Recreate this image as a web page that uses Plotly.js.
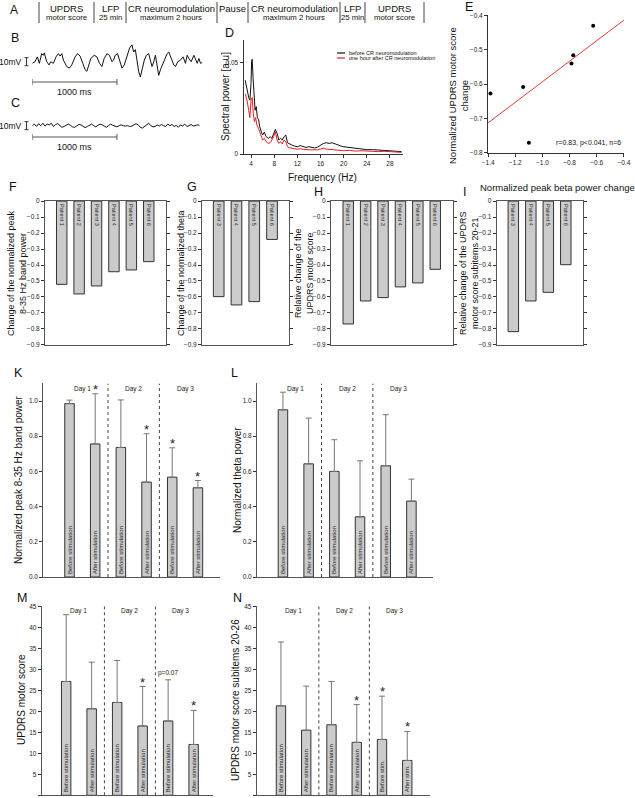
<!DOCTYPE html>
<html><head><meta charset="utf-8">
<script src="https://cdn.plot.ly/plotly-3.0.1.min.js"></script>
<style>html,body{margin:0;padding:0;background:#fff}#chart{width:635px;height:798px}</style>
</head><body><div id="chart"></div>
<script>
// ---------------- DATA ----------------
const headerTop = ["UPDRS","LFP","CR neuromodulation","Pause","CR neuromodulation","LFP","UPDRS"];
const headerBottom = ["motor score","25 min","maximum 2 hours","","maximum 2 hours","25 min","motor score"];

const bTime = [0,32,59,83,111,130,142,170,198,217,249,280,308,328,348,367,407,438,466,506,533,565,596,624,644,664,691,731,762,794,822,849,881,912,940,960,980,1007,1031,1059,1086,1118,1149,1177,1197,1217,1236,1256,1276,1296,1323,1347,1375,1394,1414,1434,1454,1473,1493,1513,1552,1592,1612,1639,1671,1691,1718,1750,1781,1809,1829,1849,1876,1908,1928,1948,1967,1987,2007];
const bVolt = [-2,0,6,-2,10,8,11,0,-4,0,-2,6,10,7,10,2,-6,-8,-4,6,10,7,-2,-10,-12,-4,4,8,6,-2,-6,4,10,8,0,2,8,10,0,-8,-4,6,17,21,12,15,-2,-12,-19,-10,2,8,10,2,-6,0,8,-4,-17,-10,0,10,12,4,-4,-6,0,2,6,-2,8,4,0,8,2,-2,4,-2,-1];
const cVolt = [0,2,-1,2.5,0,3,-0.5,2,1,3,-1,1.5,2.5,0,-2,-1,1,2,0.5,-1.5,-2,0,1.5,1,-1,-2.5,-1,1,2,0,-1.5,0.5,2,1,-1,-2,0,2,0.5,-1,-1.5,0,1,0,-0.5,0,-1,-0.5,0.5,2.5,1,-2,-3,-1,2,3,0,-1.5,-1,1,-0.5,1.5,0,-1,2,0,1.5,-1,0.5,-2,1,-0.5,2,-1,0,1.5,-0.5,0.5,1,0.5];
const cStartMs = 0, cStepMs = 25;

const dSeriesNames = ["before CR neuromodulation","one hour after CR neuromodulation"];
const dFreqBefore = [3.0,3.3,3.6,3.8,4.0,4.1,4.2,4.35,4.5,4.7,4.9,5.1,5.3,5.5,5.8,6.0,6.3,6.6,7.0,7.3,7.6,7.9,8.2,8.5,8.8,9.1,9.4,9.7,10.0,10.3,10.6,11,11.5,12,12.5,13,13.5,14,14.5,15,15.5,16,16.5,17,17.5,18,18.5,19,19.5,20,21,22,23,24,25,26,27,28,29,30];
const dPowBefore = [0.0405,0.035,0.031,0.0296,0.0387,0.051,0.052,0.042,0.030,0.024,0.026,0.020,0.019,0.015,0.012,0.0104,0.012,0.0095,0.0086,0.0095,0.0086,0.0113,0.0135,0.0113,0.0077,0.0086,0.0077,0.0095,0.0104,0.0062,0.0055,0.005,0.0044,0.004,0.0046,0.004,0.0036,0.004,0.0035,0.0033,0.0038,0.0047,0.0058,0.0062,0.0058,0.0062,0.0055,0.0047,0.0044,0.004,0.0036,0.0031,0.0027,0.0024,0.0024,0.0022,0.002,0.0018,0.0015,0.0013];
const dFreqAfter = [3.0,3.3,3.6,3.8,4.0,4.2,4.4,4.6,4.8,5.0,5.3,5.6,6.0,6.3,6.6,7.0,7.3,7.6,7.9,8.2,8.5,8.8,9.1,9.4,9.7,10.0,10.3,10.6,11,11.5,12,12.5,13,13.5,14,14.5,15,15.5,16,16.5,17,17.5,18,18.5,19,20,21,22,23,24,25,26,27,28,29,30];
const dPowAfter = [0.033,0.0296,0.024,0.020,0.0296,0.031,0.022,0.0177,0.020,0.016,0.014,0.0113,0.0077,0.0086,0.0068,0.0058,0.0062,0.0077,0.0095,0.0122,0.0077,0.0058,0.0068,0.0055,0.0077,0.0068,0.004,0.0035,0.0031,0.0029,0.0026,0.0029,0.0026,0.0024,0.0026,0.0022,0.0024,0.0022,0.0027,0.0031,0.0027,0.0026,0.0022,0.0024,0.002,0.0018,0.002,0.0016,0.0018,0.0015,0.0016,0.0013,0.0015,0.0011,0.0011,0.0009];
const dXTicks = [4,8,12,16,20,24,28];
const dYTicks = [0,0.05];

const eBetaChange = [-1.383,-1.142,-1.10,-0.786,-0.773,-0.626];
const eUpdrsChange = [-0.628,-0.609,-0.771,-0.540,-0.516,-0.430];
const eFitX = [-1.4,-0.4];
const eFitY = [-0.713,-0.414];
const eStats = "r=0.83, p<0.041, n=6";
const eXTicks = [-1.4,-1.2,-1.0,-0.8,-0.6,-0.4];
const eYTicks = [-0.8,-0.7,-0.6,-0.5,-0.4];

const fPatients = ["Patient 1","Patient 2","Patient 3","Patient 4","Patient 5","Patient 6"];
const fValues = [-0.521,-0.581,-0.531,-0.442,-0.431,-0.379];
const gPatients = ["Patient 3","Patient 4","Patient 5","Patient 6"];
const gValues = [-0.598,-0.650,-0.629,-0.240];
const hPatients = ["Patient 1","Patient 2","Patient 3","Patient 4","Patient 5","Patient 6"];
const hValues = [-0.769,-0.625,-0.604,-0.537,-0.512,-0.427];
const iPatients = ["Patient 3","Patient 4","Patient 5","Patient 6"];
const iValues = [-0.817,-0.625,-0.571,-0.398];
const patientTicks = [0,-0.1,-0.2,-0.3,-0.4,-0.5,-0.6,-0.7,-0.8,-0.9];

const conditions = ["Day 1 before","Day 1 after","Day 2 before","Day 2 after","Day 3 before","Day 3 after"];
const dayNames = ["Day 1","Day 2","Day 3"];
const barLabels = ["Before stimulation","After stimulation","Before stimulation","After stimulation","Before stimulation","After stimulation"];
const barLabelsShort = ["Before stimulation","After stimulation","Before stimulation","After stimulation","Before stim.","After stim."];
const noLower = [0,0,0,0,0,0];
const kMean = [0.985,0.756,0.736,0.539,0.567,0.507];
const kErr  = [0.020,0.285,0.270,0.275,0.167,0.041];
const kSig  = ["","*","","*","*","*"];
const lMean = [0.950,0.643,0.600,0.342,0.632,0.431];
const lErr  = [0.100,0.260,0.180,0.318,0.290,0.125];
const lSig  = ["","","","","",""];
const mMean = [27.1,20.6,22.1,16.5,17.7,12.1];
const mErr  = [15.9,11.1,10.0,9.4,9.8,8.1];
const mSig  = ["","","","*","p=0.07","*"];
const nMean = [21.3,15.5,16.8,12.6,13.3,8.3];
const nErr  = [15.2,10.5,10.3,9.0,10.3,6.9];
const nSig  = ["","","","*","*","*"];

// ---------------- LAYOUT HELPERS ----------------
const FONT = 'Liberation Sans, Arial, Helvetica, sans-serif';
const W = 635, H = 798;
const px = v => v / W;
const py = v => 1 - v / H;
const xd = (a, b) => [a / W, b / W];
const yd = (top, bot) => [1 - bot / H, 1 - top / H];

const traces = [];
const layout = {
  width: W, height: H, margin: {l:0, r:0, t:0, b:0},
  paper_bgcolor: '#fff', plot_bgcolor: 'rgba(0,0,0,0)',
  showlegend: false, font: {family: FONT, color: '#111'},
  shapes: [], annotations: []
};
const A = layout.annotations, S = layout.shapes;
function note(text, x, y, size, extra) {
  A.push(Object.assign({text, x: px(x), y: py(y), xref:'paper', yref:'paper', showarrow:false,
    font:{family:FONT, size:size, color:'#111'}, xanchor:'center', yanchor:'middle'}, extra || {}));
}
function ax(domain, range, extra) {
  return Object.assign({domain, range, showgrid:false, zeroline:false, showline:true, linecolor:'#333',
    linewidth:1, ticks:'outside', ticklen:3, tickwidth:1, tickcolor:'#333',
    tickfont:{family:FONT, size:6.5, color:'#222'}, fixedrange:true, automargin:false}, extra || {});
}
function line(x0,y0,x1,y1,xref,yref,style){ S.push(Object.assign({type:'line',x0,y0,x1,y1,xref,yref,line:{color:'#333',width:1}},style||{})); }

// ---------------- A: header ----------------
const cellEdges = [39,94,126,217,248,340,365,424];
cellEdges.forEach(e => line(px(e), py(2), px(e), py(23), 'paper', 'paper', {line:{color:'#444',width:1}}));
headerTop.forEach((t,i) => note(t, (cellEdges[i]+cellEdges[i+1])/2, 8, 9.5));
headerBottom.forEach((t,i) => { if (t) note(t, (cellEdges[i]+cellEdges[i+1])/2, 18, 7.8); });
note('A', 14, 10, 12);

// ---------------- B & C: LFP traces ----------------
layout.xaxis  = {domain: xd(32.3, 202.5), range:[0,2010], visible:false, anchor:'y', fixedrange:true};
layout.yaxis  = {domain: yd(40, 85), range:[-29,27], visible:false, anchor:'x', fixedrange:true};
layout.xaxis2 = {domain: xd(32.3, 202.5), range:[0,2010], visible:false, anchor:'y2', fixedrange:true};
layout.yaxis2 = {domain: yd(110, 142), range:[-20.4,19.6], visible:false, anchor:'x2', fixedrange:true};
traces.push({type:'scatter', mode:'lines', x:bTime, y:bVolt, xaxis:'x', yaxis:'y', line:{color:'#111', width:1}, hoverinfo:'skip'});
traces.push({type:'scatter', mode:'lines', x0:cStartMs, dx:cStepMs, y:cVolt, xaxis:'x2', yaxis:'y2', line:{color:'#111', width:1}, hoverinfo:'skip'});
[['y',82],['y2',137]].forEach(([yr, barY], k) => {
  line(px(26.5), -5, px(26.5), 5, 'paper', yr);
  line(px(24.5), -5, px(28.5), -5, 'paper', yr);
  line(px(24.5), 5, px(28.5), 5, 'paper', yr);
  A.push({text:'10mV', x:px(23.5), y:0, xref:'paper', yref:yr, showarrow:false, xanchor:'right', yanchor:'middle', font:{family:FONT,size:8.5,color:'#111'}});
  const xr = k === 0 ? 'x' : 'x2';
  line(0, py(barY), 1000, py(barY), xr, 'paper', {line:{color:'#555',width:1}});
  line(0, py(barY-3), 0, py(barY+3), xr, 'paper', {line:{color:'#555',width:1}});
  line(1000, py(barY-3), 1000, py(barY+3), xr, 'paper', {line:{color:'#555',width:1}});
  note('1000 ms', 74, barY + 10, 9);
});
note('B', 15, 38, 12.5);
note('C', 15, 103, 12.5);

// ---------------- D: spectra ----------------
layout.xaxis3 = ax(xd(243.5, 403.3), [2.7, 30.3], {anchor:'y3', tickvals:dXTicks});
layout.yaxis3 = ax(yd(40, 154), [0, 0.0626], {anchor:'x3', tickvals:dYTicks});
traces.push({type:'scatter', mode:'lines', name:dSeriesNames[0], x:dFreqBefore, y:dPowBefore, xaxis:'x3', yaxis:'y3', line:{color:'#111', width:1}, hoverinfo:'skip'});
traces.push({type:'scatter', mode:'lines', name:dSeriesNames[1], x:dFreqAfter, y:dPowAfter, xaxis:'x3', yaxis:'y3', line:{color:'#e02020', width:1}, hoverinfo:'skip'});
[['#111',53],['#e02020',58]].forEach(([c, yy], i) => {
  line(px(337), py(yy), px(345), py(yy), 'paper', 'paper', {line:{color:c, width:1.2}});
  note(dSeriesNames[i], 347, yy, 5.5, {xanchor:'left'});
});
note('D', 229, 33, 12.5);
note('Spectral power [a.u]', 226, 97, 10, {textangle:-90});
note('Frequency (Hz)', 322, 178, 10);

// ---------------- E: correlation ----------------
layout.xaxis4 = ax(xd(488, 624), [-1.401, -0.399], {anchor:'y4', tickvals:eXTicks, tickformat:'.1f'});
layout.yaxis4 = ax(yd(15, 153), [-0.801, -0.399], {anchor:'x4', tickvals:eYTicks, tickformat:'.1f'});
traces.push({type:'scatter', mode:'lines', x:eFitX, y:eFitY, xaxis:'x4', yaxis:'y4', line:{color:'#e03a3a', width:1}, hoverinfo:'skip'});
traces.push({type:'scatter', mode:'markers', x:eBetaChange, y:eUpdrsChange, xaxis:'x4', yaxis:'y4', marker:{color:'#000', size:4}, hoverinfo:'skip'});
note(eStats, 588, 143, 7);
note('E', 469, 7, 12.5);
note('Normalized UPDRS motor score<br>change', 458, 96, 9.5, {textangle:-90});
note('Normalized peak beta power change', 557, 187, 9.5);

// ---------------- F-I: patient bars ----------------
function patientPanel(n, cats, vals, xdom, xrange, letter, letterX, letterY, title, titleX) {
  const xa = 'xaxis' + n, ya = 'yaxis' + n;
  layout[xa] = ax(xd(xdom[0], xdom[1]), xrange, {anchor:'y'+n, type:'category', ticks:'', showticklabels:false, mirror:true, linecolor:'#555'});
  layout[ya] = ax(yd(201, 345), [-0.9005, 0.0005], {anchor:'x'+n, tickvals:patientTicks, mirror:'ticks', linecolor:'#555'});
  traces.push({type:'bar', x:cats, y:vals, xaxis:'x'+n, yaxis:'y'+n, width:0.6,
    marker:{color:'#cbcbcb', line:{color:'#333', width:1}},
    text:cats, textposition:'inside', insidetextanchor:'start', textangle:90, constraintext:'none',
    textfont:{family:FONT, size:5.5, color:'#222'}, hoverinfo:'skip'});
  note(letter, letterX, letterY, 12.5);
  note(title, titleX, 273, 9, {textangle:-90});
}
patientPanel(5, fPatients, fValues, [45,166], [-0.96, 5.99], 'F', 13, 187, 'Change of the normalized peak<br>8-35 Hz band power', 17);
patientPanel(6, gPatients, gValues, [202,289], [-0.94, 3.955], 'G', 192, 187, 'Change of the normalized theta', 181);
patientPanel(7, hPatients, hValues, [331,453], [-0.99, 6.02], 'H', 318, 192, 'Relative change of the<br>UPDRS motor score', 304);
patientPanel(8, iPatients, iValues, [496.7,583.3], [-0.95, 4.0], 'I', 464, 192, 'Relative change of the UPDRS<br>motor score subitems 20-21', 469);

// ---------------- K-N: day bars ----------------
function dayPanel(n, mean, err, sig, labels, xdom, xrange, ydom, yrange, ytick, yfmt, dayY, letter, letterXY, title, titleXY) {
  layout['xaxis'+n] = ax(xd(xdom[0], xdom[1]), xrange, {anchor:'y'+n, type:'category', ticks:'', showticklabels:false, linecolor:'#555'});
  layout['yaxis'+n] = ax(yd(ydom[0], ydom[1]), yrange, {anchor:'x'+n, dtick:ytick, tick0:0, tickformat:yfmt, linecolor:'#555'});
  traces.push({type:'bar', x:conditions, y:mean, xaxis:'x'+n, yaxis:'y'+n, width:0.37,
    marker:{color:'#cbcbcb', line:{color:'#333', width:1}},
    error_y:{type:'data', symmetric:false, array:err, arrayminus:noLower, color:'#777', thickness:1, width:3},
    text:labels, textposition:'inside', insidetextanchor:'start', textangle:-90, constraintext:'none',
    textfont:{family:FONT, size:6, color:'#222'}, hoverinfo:'skip'});
  [1.5, 3.5].forEach(xs => line(xs, 0, xs, yrange[1], 'x'+n, 'y'+n, {line:{color:'#444', width:1, dash:'dot'}}));
  dayNames.forEach((d, i) => A.push({text:d, x:2*i+0.5, y:dayY, xref:'x'+n, yref:'y'+n, showarrow:false,
    font:{family:FONT, size:6.5, color:'#222'}, xanchor:'center', yanchor:'middle'}));
  sig.forEach((s, i) => { if (!s) return;
    const star = s === '*';
    A.push({text:s, x:conditions[i], y:mean[i]+err[i], xref:'x'+n, yref:'y'+n, showarrow:false,
      font:{family:FONT, size: star ? 13 : 6.5, color:'#222'}, xanchor:'center', yanchor:'bottom', yshift: star ? -5 : 1});
  });
  note(letter, letterXY[0], letterXY[1], 12.5);
  note(title, titleXY[0], titleXY[1], 10, {textangle:-90});
}
dayPanel(9,  kMean, kErr, kSig, barLabels,      [43.3,220], [-1.02,5.86], [383.4,577], [0,1.1], 0.2, '.1f', 1.07, 'K', [18,373], 'Normalized peak 8-35 Hz band power', [18,480]);
dayPanel(10, lMean, lErr, lSig, barLabels,      [257,433],  [-1.01,5.84], [383.4,577], [0,1.1], 0.2, '.1f', 1.07, 'L', [234,373], 'Normalized theta power', [237,480]);
dayPanel(11, mMean, mErr, mSig, barLabels,      [41.7,213], [-0.96,5.76], [606.3,795.3], [0,45], 5, '', 44, 'M', [22,598], 'UPDRS motor score', [21,700]);
dayPanel(12, nMean, nErr, nSig, barLabelsShort, [256.7,430],[-0.96,5.9],  [606.3,795.3], [0,45], 5, '', 44, 'N', [237,598], 'UPDRS motor score subitems 20-26', [235,700]);

Plotly.newPlot('chart', traces, layout, {staticPlot:true, displayModeBar:false});
</script></body></html>
